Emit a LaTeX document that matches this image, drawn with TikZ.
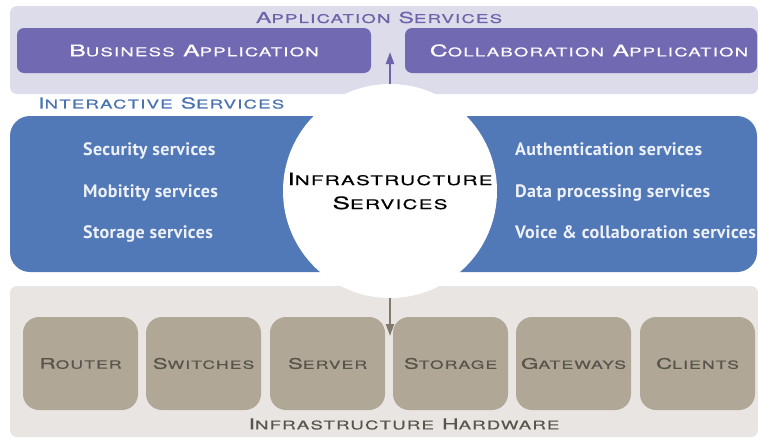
\documentclass[tikz,border=0pt]{standalone}
\usepackage{fontspec}
\usepackage{relsize}
\usetikzlibrary{arrows.meta}
\setmainfont{TeX Gyre Heros}
\newfontfamily\widefont[FakeStretch=1.55,LetterSpace=10,FakeBold=0.6]{TeX Gyre Heros}
\newfontfamily\itemfont[LetterSpace=2]{PT Sans}
\newcommand{\capw}[2]{#1\textscale{.78}{#2}}
\definecolor{appbg}{RGB}{221,220,235}
\definecolor{appbox}{RGB}{113,105,177}
\definecolor{apptext}{RGB}{108,100,170}
\definecolor{iablue}{RGB}{82,121,183}
\definecolor{iatext}{RGB}{74,113,178}
\definecolor{hwbg}{RGB}{233,229,226}
\definecolor{hwbox}{RGB}{176,167,150}
\definecolor{hwtext}{RGB}{88,83,75}
\definecolor{hwarrow}{RGB}{130,121,106}

\begin{document}
\begin{tikzpicture}[x=1pt,y=-1pt]
  \tikzset{panel/.style = {rounded corners=7pt,inner sep=0pt}}
  \tikzset{appbox/.style = {fill=appbox,rounded corners=7pt,minimum height=45pt,text=white!92!appbg,font=\widefont\fontsize{16}{19}\selectfont}}
  \tikzset{hwbox/.style = {fill=hwbox,rounded corners=16pt,minimum width=115pt,minimum height=93pt,text=hwtext,font=\widefont\fontsize{14.5}{18}\selectfont}}
  \tikzset{item/.style = {anchor=base west,inner sep=0pt,text=white!90!iablue,font=\itemfont\bfseries\fontsize{18}{20}\selectfont}}
  \tikzset{title/.style = {inner sep=0pt,font=\widefont\fontsize{15}{18}\selectfont}}
  \tikzset{link/.style = {-{Triangle[width=8pt,length=12pt]},line width=2pt}}

\useasboundingbox (0,0) rectangle (758,439);

% panels
\node[panel,fill=appbg,minimum width=748pt,minimum height=88pt] (app) at (384,50) {};
\node[panel,fill=iablue,rounded corners=20pt,minimum width=747pt,minimum height=156pt] (ia) at (383.5,194) {};
\node[panel,fill=hwbg,minimum width=748pt,minimum height=151pt] (hw) at (384,361.5) {};

\node[title,text=apptext] (apptitle) at (379,17.5) {\capw{A}{PPLICATION} \capw{S}{ERVICES}};
\node[title,text=iatext,anchor=west] (iatitle) at (38,103) {\capw{I}{NTERACTIVE} \capw{S}{ERVICES}};
\node[title,text=hwtext] (hwtitle) at (404,424) {\capw{I}{NFRASTRUCTURE} \capw{H}{ARDWARE}};

% application layer
\node[appbox,minimum width=354pt] (busi) at (194,50.5) {\capw{B}{USINESS} \capw{A}{PPLICATION}};
\node[appbox,minimum width=352pt] (collab) at (581,50.5) {\hspace{16pt}\capw{C}{OLLABORATION} \capw{A}{PPLICATION}};

% interactive services
\node[item] (sec) at (83,155) {Security services};
\node[item] (mob) at (83,197) {Mobitity services};
\node[item] (sto) at (83,238) {Storage services};
\node[item] (auth) at (515,155) {Authentication services};
\node[item] (data) at (515,197) {Data processing services};
\node[item] (voice) at (515,238) {Voice \& collaboration services};

\node[circle,fill=white,minimum size=214pt,inner sep=0pt,align=center,font=\widefont\fontsize{17}{24}\selectfont] (infra) at (390,191) {\capw{I}{NFRASTRUCTURE}\\\capw{S}{ERVICES}};

% hardware
\node[hwbox] (router) at (80.5,363.5) {\capw{R}{OUTER}};
\node[hwbox] (switch) at (203.5,363.5) {\capw{S}{WITCHES}};
\node[hwbox] (server) at (327.5,363.5) {\capw{S}{ERVER}};
\node[hwbox] (storage) at (450.5,363.5) {\capw{S}{TORAGE}};
\node[hwbox] (gateway) at (573.5,363.5) {\capw{G}{ATEWAYS}};
\node[hwbox] (client) at (697.5,363.5) {\capw{C}{LIENTS}};

\coordinate (apptip) at (390,52);
\coordinate (hwtip) at (390,336);
\draw[link,apptext] (infra.north) -- (apptip);
\draw[link,hwarrow] (infra.south) -- (hwtip);

\end{tikzpicture}
\end{document}
